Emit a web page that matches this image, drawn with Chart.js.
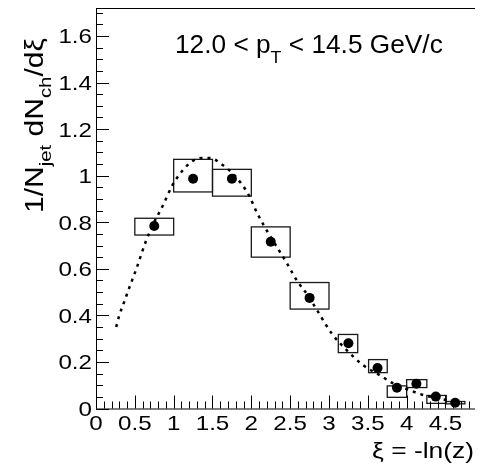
<!DOCTYPE html>
<html lang="en">
<head>
  <meta charset="UTF-8" />
  <title>Charged particle xi distribution in jets</title>
  <script src="https://cdn.jsdelivr.net/npm/chart.js"></script>
  <style>
    body { margin: 0; background: #fff; }
    #chart { display: block; }
  </style>
</head>
<body>
  <canvas id="chart" width="480" height="475"></canvas>

  <script>
    // measured points (xi, 1/Njet dNch/dxi)
    const xiValues = [0.75, 1.25, 1.75, 2.25, 2.75, 3.25, 3.625, 3.875, 4.125, 4.375, 4.625];
    const yieldValues = [0.784, 0.987, 0.987, 0.716, 0.475, 0.28, 0.174, 0.089, 0.106, 0.051, 0.025];

    // systematic error boxes
    const sysXLow = [0.5, 1.0, 1.5, 2.0, 2.5, 3.12, 3.51, 3.75, 4.0, 4.26, 4.5];
    const sysXHigh = [1.0, 1.5, 2.0, 2.5, 3.0, 3.37, 3.75, 4.0, 4.26, 4.51, 4.75];
    const sysYLow = [0.745, 0.93, 0.912, 0.65, 0.427, 0.24, 0.154, 0.048, 0.09, 0.022, 0.02];
    const sysYHigh = [0.817, 1.07, 1.027, 0.78, 0.541, 0.318, 0.21, 0.097, 0.124, 0.056, 0.03];

    // fit curve
    const fitXi = [0.26, 0.30, 0.36, 0.43, 0.52, 0.64, 0.73, 0.86, 0.98, 1.11, 1.24, 1.36, 1.47, 1.62, 1.77,
                   1.96, 2.08, 2.21, 2.34, 2.47, 2.59, 2.72, 2.85, 3.04, 3.23, 3.44, 3.65, 3.82, 4.03, 4.20, 4.37, 4.52];
    const fitYield = [0.35, 0.40, 0.455, 0.52, 0.60, 0.716, 0.787, 0.871, 0.956, 1.02, 1.062, 1.076, 1.076, 1.048, 1.006,
                      0.921, 0.836, 0.758, 0.688, 0.617, 0.547, 0.49, 0.42, 0.32, 0.25, 0.186, 0.144, 0.109, 0.08, 0.059, 0.045, 0.036];

    const xTickValues = [0, 0.5, 1, 1.5, 2, 2.5, 3, 3.5, 4, 4.5];
    const xTickLabels = ['0', '0.5', '1', '1.5', '2', '2.5', '3', '3.5', '4', '4.5'];
    const yTickValues = [0, 0.2, 0.4, 0.6, 0.8, 1, 1.2, 1.4, 1.6];
    const yTickLabels = ['0', '0.2', '0.4', '0.6', '0.8', '1', '1.2', '1.4', '1.6'];

    const FONT = '"Liberation Sans", Arial, sans-serif';

    // text with a little horizontal stretch, ROOT fonts run wide
    function drawText(ctx, str, x, y, size, align, sx) {
      ctx.save();
      ctx.font = size + 'px ' + FONT;
      const w = ctx.measureText(str).width * sx;
      let x0 = x;
      if (align === 'right') x0 = x - w;
      if (align === 'center') x0 = x - w / 2;
      ctx.translate(x0, y);
      ctx.scale(sx, 1);
      ctx.textAlign = 'left';
      ctx.textBaseline = 'alphabetic';
      ctx.fillStyle = '#000';
      ctx.fillText(str, 0, 0);
      ctx.restore();
      return w;
    }

    // pieces: [text, size, baseline shift]
    function drawPieces(ctx, pieces, x, y, sx) {
      let cx = x;
      pieces.forEach(p => {
        cx += drawText(ctx, p[0], cx, y + p[2], p[1], 'left', sx);
      });
    }

    const rootStyle = {
      id: 'rootStyle',
      beforeDatasetsDraw(chart) {
        const { ctx, scales: { x, y } } = chart;
        ctx.save();
        ctx.strokeStyle = '#1a1a1a';
        ctx.lineWidth = 1.3;
        for (let i = 0; i < sysXLow.length; i++) {
          const x1 = x.getPixelForValue(sysXLow[i]);
          const x2 = x.getPixelForValue(sysXHigh[i]);
          const y1 = y.getPixelForValue(sysYHigh[i]);
          const y2 = y.getPixelForValue(sysYLow[i]);
          ctx.strokeRect(x1, y1, x2 - x1, y2 - y1);
        }
        ctx.restore();
      },
      afterDraw(chart) {
        const { ctx, chartArea: a, scales: { x, y } } = chart;
        ctx.save();
        ctx.strokeStyle = '#000';
        ctx.lineWidth = 1;

        // frame: left, bottom, top
        ctx.beginPath();
        ctx.moveTo(a.left + 0.5, a.top);
        ctx.lineTo(a.left + 0.5, a.bottom);
        ctx.moveTo(a.left, a.bottom + 0.5);
        ctx.lineTo(a.right, a.bottom + 0.5);
        ctx.moveTo(a.left, a.top + 0.5);
        ctx.lineTo(a.right, a.top + 0.5);
        ctx.stroke();

        // inward tick marks
        ctx.beginPath();
        for (let v = 0; v <= 4.88; v += 0.1) {
          const px = Math.round(x.getPixelForValue(v)) + 0.5;
          const major = Math.abs(v * 2 - Math.round(v * 2)) < 1e-6;
          ctx.moveTo(px, a.bottom);
          ctx.lineTo(px, a.bottom - (major ? 13 : 7));
        }
        for (let v = 0; v <= 1.72; v += 0.05) {
          const py = Math.round(y.getPixelForValue(v)) + 0.5;
          const major = Math.abs(v * 5 - Math.round(v * 5)) < 1e-6;
          ctx.moveTo(a.left, py);
          ctx.lineTo(a.left + (major ? 13 : 7), py);
        }
        ctx.stroke();
        ctx.restore();

        // tick labels
        xTickValues.forEach((v, i) => {
          drawText(ctx, xTickLabels[i], x.getPixelForValue(v), a.bottom + 21.5, 21, 'center', 1.15);
        });
        yTickValues.forEach((v, i) => {
          drawText(ctx, yTickLabels[i], a.left - 4, y.getPixelForValue(v) + 7.5, 21, 'right', 1.15);
        });

        // axis titles
        drawText(ctx, '\u03be = -ln(z)', a.right - 1, 458, 22, 'right', 1.2);

        ctx.save();
        ctx.translate(43, 213);
        ctx.rotate(-Math.PI / 2);
        drawPieces(ctx, [
          ['1/N', 25, 0], ['jet', 17, 8], [' dN', 25, 0], ['ch', 17, 8], ['/d\u03be', 25, 0]
        ], 0, 0, 1.2);
        ctx.restore();

        // pT bin label
        drawPieces(ctx, [
          ['12.0 < p', 25, 0], ['T', 17, 10], [' < 14.5 GeV/c', 25, 0]
        ], 175, 53, 1.05);
      }
    };

    const ctx = document.getElementById('chart').getContext('2d');
    new Chart(ctx, {
      type: 'scatter',
      data: {
        datasets: [
          {
            type: 'line',
            data: fitXi.map((v, i) => ({ x: v, y: fitYield[i] })),
            borderColor: '#000',
            borderWidth: 2.5,
            borderDash: [3, 5],
            pointRadius: 0,
            cubicInterpolationMode: 'monotone',
            fill: false,
            order: 2
          },
          {
            data: xiValues.map((v, i) => ({ x: v, y: yieldValues[i] })),
            pointRadius: 5,
            pointHoverRadius: 5,
            backgroundColor: '#000',
            borderColor: '#000',
            borderWidth: 0,
            order: 1
          }
        ]
      },
      options: {
        responsive: false,
        animation: false,
        devicePixelRatio: 1,
        layout: { padding: { top: 8, right: 0, left: 0, bottom: 0 } },
        plugins: { legend: { display: false }, tooltip: { enabled: false } },
        scales: {
          x: {
            type: 'linear', min: 0, max: 4.88,
            grid: { display: false, drawTicks: false },
            border: { display: false },
            ticks: { display: false },
            afterFit(s) { s.height = 66.5; s.paddingLeft = 0; s.paddingRight = 0; }
          },
          y: {
            type: 'linear', min: 0, max: 1.72,
            grid: { display: false, drawTicks: false },
            border: { display: false },
            ticks: { display: false },
            afterFit(s) { s.width = 96; s.paddingTop = 0; s.paddingBottom = 0; }
          }
        }
      },
      plugins: [rootStyle]
    });
  </script>
</body>
</html>
